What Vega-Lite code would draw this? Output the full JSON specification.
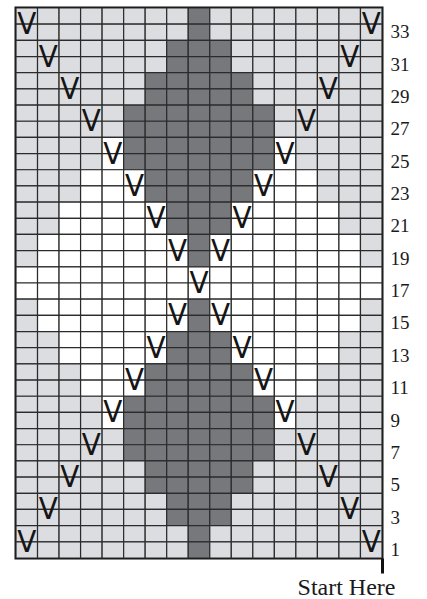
{
"$schema": "https://vega.github.io/schema/vega-lite/v6.json",
"width": 366,
"height": 550,
"autosize": {"type": "none"},
"padding": {"left": 16, "top": 8, "right": 45, "bottom": 41},
"background": "white",
"config": {"view": {"stroke": "#111111", "strokeWidth": 3}},
"datasets": {
"cells": [
{"col":1,"row":34,"tone":"L"},{"col":2,"row":34,"tone":"L"},{"col":3,"row":34,"tone":"L"},{"col":4,"row":34,"tone":"L"},{"col":5,"row":34,"tone":"L"},{"col":6,"row":34,"tone":"L"},{"col":7,"row":34,"tone":"L"},{"col":8,"row":34,"tone":"L"},{"col":9,"row":34,"tone":"D"},{"col":10,"row":34,"tone":"L"},{"col":11,"row":34,"tone":"L"},{"col":12,"row":34,"tone":"L"},{"col":13,"row":34,"tone":"L"},{"col":14,"row":34,"tone":"L"},{"col":15,"row":34,"tone":"L"},{"col":16,"row":34,"tone":"L"},{"col":17,"row":34,"tone":"L"},
{"col":1,"row":33,"tone":"L"},{"col":2,"row":33,"tone":"L"},{"col":3,"row":33,"tone":"L"},{"col":4,"row":33,"tone":"L"},{"col":5,"row":33,"tone":"L"},{"col":6,"row":33,"tone":"L"},{"col":7,"row":33,"tone":"L"},{"col":8,"row":33,"tone":"L"},{"col":9,"row":33,"tone":"D"},{"col":10,"row":33,"tone":"L"},{"col":11,"row":33,"tone":"L"},{"col":12,"row":33,"tone":"L"},{"col":13,"row":33,"tone":"L"},{"col":14,"row":33,"tone":"L"},{"col":15,"row":33,"tone":"L"},{"col":16,"row":33,"tone":"L"},{"col":17,"row":33,"tone":"L"},
{"col":1,"row":32,"tone":"L"},{"col":2,"row":32,"tone":"L"},{"col":3,"row":32,"tone":"L"},{"col":4,"row":32,"tone":"L"},{"col":5,"row":32,"tone":"L"},{"col":6,"row":32,"tone":"L"},{"col":7,"row":32,"tone":"L"},{"col":8,"row":32,"tone":"D"},{"col":9,"row":32,"tone":"D"},{"col":10,"row":32,"tone":"D"},{"col":11,"row":32,"tone":"L"},{"col":12,"row":32,"tone":"L"},{"col":13,"row":32,"tone":"L"},{"col":14,"row":32,"tone":"L"},{"col":15,"row":32,"tone":"L"},{"col":16,"row":32,"tone":"L"},{"col":17,"row":32,"tone":"L"},
{"col":1,"row":31,"tone":"L"},{"col":2,"row":31,"tone":"L"},{"col":3,"row":31,"tone":"L"},{"col":4,"row":31,"tone":"L"},{"col":5,"row":31,"tone":"L"},{"col":6,"row":31,"tone":"L"},{"col":7,"row":31,"tone":"L"},{"col":8,"row":31,"tone":"D"},{"col":9,"row":31,"tone":"D"},{"col":10,"row":31,"tone":"D"},{"col":11,"row":31,"tone":"L"},{"col":12,"row":31,"tone":"L"},{"col":13,"row":31,"tone":"L"},{"col":14,"row":31,"tone":"L"},{"col":15,"row":31,"tone":"L"},{"col":16,"row":31,"tone":"L"},{"col":17,"row":31,"tone":"L"},
{"col":1,"row":30,"tone":"L"},{"col":2,"row":30,"tone":"L"},{"col":3,"row":30,"tone":"L"},{"col":4,"row":30,"tone":"L"},{"col":5,"row":30,"tone":"L"},{"col":6,"row":30,"tone":"L"},{"col":7,"row":30,"tone":"D"},{"col":8,"row":30,"tone":"D"},{"col":9,"row":30,"tone":"D"},{"col":10,"row":30,"tone":"D"},{"col":11,"row":30,"tone":"D"},{"col":12,"row":30,"tone":"L"},{"col":13,"row":30,"tone":"L"},{"col":14,"row":30,"tone":"L"},{"col":15,"row":30,"tone":"L"},{"col":16,"row":30,"tone":"L"},{"col":17,"row":30,"tone":"L"},
{"col":1,"row":29,"tone":"L"},{"col":2,"row":29,"tone":"L"},{"col":3,"row":29,"tone":"L"},{"col":4,"row":29,"tone":"L"},{"col":5,"row":29,"tone":"L"},{"col":6,"row":29,"tone":"L"},{"col":7,"row":29,"tone":"D"},{"col":8,"row":29,"tone":"D"},{"col":9,"row":29,"tone":"D"},{"col":10,"row":29,"tone":"D"},{"col":11,"row":29,"tone":"D"},{"col":12,"row":29,"tone":"L"},{"col":13,"row":29,"tone":"L"},{"col":14,"row":29,"tone":"L"},{"col":15,"row":29,"tone":"L"},{"col":16,"row":29,"tone":"L"},{"col":17,"row":29,"tone":"L"},
{"col":1,"row":28,"tone":"L"},{"col":2,"row":28,"tone":"L"},{"col":3,"row":28,"tone":"L"},{"col":4,"row":28,"tone":"L"},{"col":5,"row":28,"tone":"L"},{"col":6,"row":28,"tone":"D"},{"col":7,"row":28,"tone":"D"},{"col":8,"row":28,"tone":"D"},{"col":9,"row":28,"tone":"D"},{"col":10,"row":28,"tone":"D"},{"col":11,"row":28,"tone":"D"},{"col":12,"row":28,"tone":"D"},{"col":13,"row":28,"tone":"L"},{"col":14,"row":28,"tone":"L"},{"col":15,"row":28,"tone":"L"},{"col":16,"row":28,"tone":"L"},{"col":17,"row":28,"tone":"L"},
{"col":1,"row":27,"tone":"L"},{"col":2,"row":27,"tone":"L"},{"col":3,"row":27,"tone":"L"},{"col":4,"row":27,"tone":"L"},{"col":5,"row":27,"tone":"L"},{"col":6,"row":27,"tone":"D"},{"col":7,"row":27,"tone":"D"},{"col":8,"row":27,"tone":"D"},{"col":9,"row":27,"tone":"D"},{"col":10,"row":27,"tone":"D"},{"col":11,"row":27,"tone":"D"},{"col":12,"row":27,"tone":"D"},{"col":13,"row":27,"tone":"L"},{"col":14,"row":27,"tone":"L"},{"col":15,"row":27,"tone":"L"},{"col":16,"row":27,"tone":"L"},{"col":17,"row":27,"tone":"L"},
{"col":1,"row":26,"tone":"L"},{"col":2,"row":26,"tone":"L"},{"col":3,"row":26,"tone":"L"},{"col":4,"row":26,"tone":"L"},{"col":5,"row":26,"tone":"W"},{"col":6,"row":26,"tone":"D"},{"col":7,"row":26,"tone":"D"},{"col":8,"row":26,"tone":"D"},{"col":9,"row":26,"tone":"D"},{"col":10,"row":26,"tone":"D"},{"col":11,"row":26,"tone":"D"},{"col":12,"row":26,"tone":"D"},{"col":13,"row":26,"tone":"W"},{"col":14,"row":26,"tone":"L"},{"col":15,"row":26,"tone":"L"},{"col":16,"row":26,"tone":"L"},{"col":17,"row":26,"tone":"L"},
{"col":1,"row":25,"tone":"L"},{"col":2,"row":25,"tone":"L"},{"col":3,"row":25,"tone":"L"},{"col":4,"row":25,"tone":"L"},{"col":5,"row":25,"tone":"W"},{"col":6,"row":25,"tone":"D"},{"col":7,"row":25,"tone":"D"},{"col":8,"row":25,"tone":"D"},{"col":9,"row":25,"tone":"D"},{"col":10,"row":25,"tone":"D"},{"col":11,"row":25,"tone":"D"},{"col":12,"row":25,"tone":"D"},{"col":13,"row":25,"tone":"W"},{"col":14,"row":25,"tone":"L"},{"col":15,"row":25,"tone":"L"},{"col":16,"row":25,"tone":"L"},{"col":17,"row":25,"tone":"L"},
{"col":1,"row":24,"tone":"L"},{"col":2,"row":24,"tone":"L"},{"col":3,"row":24,"tone":"L"},{"col":4,"row":24,"tone":"W"},{"col":5,"row":24,"tone":"W"},{"col":6,"row":24,"tone":"W"},{"col":7,"row":24,"tone":"D"},{"col":8,"row":24,"tone":"D"},{"col":9,"row":24,"tone":"D"},{"col":10,"row":24,"tone":"D"},{"col":11,"row":24,"tone":"D"},{"col":12,"row":24,"tone":"W"},{"col":13,"row":24,"tone":"W"},{"col":14,"row":24,"tone":"W"},{"col":15,"row":24,"tone":"L"},{"col":16,"row":24,"tone":"L"},{"col":17,"row":24,"tone":"L"},
{"col":1,"row":23,"tone":"L"},{"col":2,"row":23,"tone":"L"},{"col":3,"row":23,"tone":"L"},{"col":4,"row":23,"tone":"W"},{"col":5,"row":23,"tone":"W"},{"col":6,"row":23,"tone":"W"},{"col":7,"row":23,"tone":"D"},{"col":8,"row":23,"tone":"D"},{"col":9,"row":23,"tone":"D"},{"col":10,"row":23,"tone":"D"},{"col":11,"row":23,"tone":"D"},{"col":12,"row":23,"tone":"W"},{"col":13,"row":23,"tone":"W"},{"col":14,"row":23,"tone":"W"},{"col":15,"row":23,"tone":"L"},{"col":16,"row":23,"tone":"L"},{"col":17,"row":23,"tone":"L"},
{"col":1,"row":22,"tone":"L"},{"col":2,"row":22,"tone":"L"},{"col":3,"row":22,"tone":"W"},{"col":4,"row":22,"tone":"W"},{"col":5,"row":22,"tone":"W"},{"col":6,"row":22,"tone":"W"},{"col":7,"row":22,"tone":"W"},{"col":8,"row":22,"tone":"D"},{"col":9,"row":22,"tone":"D"},{"col":10,"row":22,"tone":"D"},{"col":11,"row":22,"tone":"W"},{"col":12,"row":22,"tone":"W"},{"col":13,"row":22,"tone":"W"},{"col":14,"row":22,"tone":"W"},{"col":15,"row":22,"tone":"W"},{"col":16,"row":22,"tone":"L"},{"col":17,"row":22,"tone":"L"},
{"col":1,"row":21,"tone":"L"},{"col":2,"row":21,"tone":"L"},{"col":3,"row":21,"tone":"W"},{"col":4,"row":21,"tone":"W"},{"col":5,"row":21,"tone":"W"},{"col":6,"row":21,"tone":"W"},{"col":7,"row":21,"tone":"W"},{"col":8,"row":21,"tone":"D"},{"col":9,"row":21,"tone":"D"},{"col":10,"row":21,"tone":"D"},{"col":11,"row":21,"tone":"W"},{"col":12,"row":21,"tone":"W"},{"col":13,"row":21,"tone":"W"},{"col":14,"row":21,"tone":"W"},{"col":15,"row":21,"tone":"W"},{"col":16,"row":21,"tone":"L"},{"col":17,"row":21,"tone":"L"},
{"col":1,"row":20,"tone":"L"},{"col":2,"row":20,"tone":"W"},{"col":3,"row":20,"tone":"W"},{"col":4,"row":20,"tone":"W"},{"col":5,"row":20,"tone":"W"},{"col":6,"row":20,"tone":"W"},{"col":7,"row":20,"tone":"W"},{"col":8,"row":20,"tone":"W"},{"col":9,"row":20,"tone":"D"},{"col":10,"row":20,"tone":"W"},{"col":11,"row":20,"tone":"W"},{"col":12,"row":20,"tone":"W"},{"col":13,"row":20,"tone":"W"},{"col":14,"row":20,"tone":"W"},{"col":15,"row":20,"tone":"W"},{"col":16,"row":20,"tone":"W"},{"col":17,"row":20,"tone":"L"},
{"col":1,"row":19,"tone":"L"},{"col":2,"row":19,"tone":"W"},{"col":3,"row":19,"tone":"W"},{"col":4,"row":19,"tone":"W"},{"col":5,"row":19,"tone":"W"},{"col":6,"row":19,"tone":"W"},{"col":7,"row":19,"tone":"W"},{"col":8,"row":19,"tone":"W"},{"col":9,"row":19,"tone":"D"},{"col":10,"row":19,"tone":"W"},{"col":11,"row":19,"tone":"W"},{"col":12,"row":19,"tone":"W"},{"col":13,"row":19,"tone":"W"},{"col":14,"row":19,"tone":"W"},{"col":15,"row":19,"tone":"W"},{"col":16,"row":19,"tone":"W"},{"col":17,"row":19,"tone":"L"},
{"col":1,"row":18,"tone":"W"},{"col":2,"row":18,"tone":"W"},{"col":3,"row":18,"tone":"W"},{"col":4,"row":18,"tone":"W"},{"col":5,"row":18,"tone":"W"},{"col":6,"row":18,"tone":"W"},{"col":7,"row":18,"tone":"W"},{"col":8,"row":18,"tone":"W"},{"col":9,"row":18,"tone":"W"},{"col":10,"row":18,"tone":"W"},{"col":11,"row":18,"tone":"W"},{"col":12,"row":18,"tone":"W"},{"col":13,"row":18,"tone":"W"},{"col":14,"row":18,"tone":"W"},{"col":15,"row":18,"tone":"W"},{"col":16,"row":18,"tone":"W"},{"col":17,"row":18,"tone":"W"},
{"col":1,"row":17,"tone":"W"},{"col":2,"row":17,"tone":"W"},{"col":3,"row":17,"tone":"W"},{"col":4,"row":17,"tone":"W"},{"col":5,"row":17,"tone":"W"},{"col":6,"row":17,"tone":"W"},{"col":7,"row":17,"tone":"W"},{"col":8,"row":17,"tone":"W"},{"col":9,"row":17,"tone":"W"},{"col":10,"row":17,"tone":"W"},{"col":11,"row":17,"tone":"W"},{"col":12,"row":17,"tone":"W"},{"col":13,"row":17,"tone":"W"},{"col":14,"row":17,"tone":"W"},{"col":15,"row":17,"tone":"W"},{"col":16,"row":17,"tone":"W"},{"col":17,"row":17,"tone":"W"},
{"col":1,"row":16,"tone":"L"},{"col":2,"row":16,"tone":"W"},{"col":3,"row":16,"tone":"W"},{"col":4,"row":16,"tone":"W"},{"col":5,"row":16,"tone":"W"},{"col":6,"row":16,"tone":"W"},{"col":7,"row":16,"tone":"W"},{"col":8,"row":16,"tone":"W"},{"col":9,"row":16,"tone":"D"},{"col":10,"row":16,"tone":"W"},{"col":11,"row":16,"tone":"W"},{"col":12,"row":16,"tone":"W"},{"col":13,"row":16,"tone":"W"},{"col":14,"row":16,"tone":"W"},{"col":15,"row":16,"tone":"W"},{"col":16,"row":16,"tone":"W"},{"col":17,"row":16,"tone":"L"},
{"col":1,"row":15,"tone":"L"},{"col":2,"row":15,"tone":"W"},{"col":3,"row":15,"tone":"W"},{"col":4,"row":15,"tone":"W"},{"col":5,"row":15,"tone":"W"},{"col":6,"row":15,"tone":"W"},{"col":7,"row":15,"tone":"W"},{"col":8,"row":15,"tone":"W"},{"col":9,"row":15,"tone":"D"},{"col":10,"row":15,"tone":"W"},{"col":11,"row":15,"tone":"W"},{"col":12,"row":15,"tone":"W"},{"col":13,"row":15,"tone":"W"},{"col":14,"row":15,"tone":"W"},{"col":15,"row":15,"tone":"W"},{"col":16,"row":15,"tone":"W"},{"col":17,"row":15,"tone":"L"},
{"col":1,"row":14,"tone":"L"},{"col":2,"row":14,"tone":"L"},{"col":3,"row":14,"tone":"W"},{"col":4,"row":14,"tone":"W"},{"col":5,"row":14,"tone":"W"},{"col":6,"row":14,"tone":"W"},{"col":7,"row":14,"tone":"W"},{"col":8,"row":14,"tone":"D"},{"col":9,"row":14,"tone":"D"},{"col":10,"row":14,"tone":"D"},{"col":11,"row":14,"tone":"W"},{"col":12,"row":14,"tone":"W"},{"col":13,"row":14,"tone":"W"},{"col":14,"row":14,"tone":"W"},{"col":15,"row":14,"tone":"W"},{"col":16,"row":14,"tone":"L"},{"col":17,"row":14,"tone":"L"},
{"col":1,"row":13,"tone":"L"},{"col":2,"row":13,"tone":"L"},{"col":3,"row":13,"tone":"W"},{"col":4,"row":13,"tone":"W"},{"col":5,"row":13,"tone":"W"},{"col":6,"row":13,"tone":"W"},{"col":7,"row":13,"tone":"W"},{"col":8,"row":13,"tone":"D"},{"col":9,"row":13,"tone":"D"},{"col":10,"row":13,"tone":"D"},{"col":11,"row":13,"tone":"W"},{"col":12,"row":13,"tone":"W"},{"col":13,"row":13,"tone":"W"},{"col":14,"row":13,"tone":"W"},{"col":15,"row":13,"tone":"W"},{"col":16,"row":13,"tone":"L"},{"col":17,"row":13,"tone":"L"},
{"col":1,"row":12,"tone":"L"},{"col":2,"row":12,"tone":"L"},{"col":3,"row":12,"tone":"L"},{"col":4,"row":12,"tone":"W"},{"col":5,"row":12,"tone":"W"},{"col":6,"row":12,"tone":"W"},{"col":7,"row":12,"tone":"D"},{"col":8,"row":12,"tone":"D"},{"col":9,"row":12,"tone":"D"},{"col":10,"row":12,"tone":"D"},{"col":11,"row":12,"tone":"D"},{"col":12,"row":12,"tone":"W"},{"col":13,"row":12,"tone":"W"},{"col":14,"row":12,"tone":"W"},{"col":15,"row":12,"tone":"L"},{"col":16,"row":12,"tone":"L"},{"col":17,"row":12,"tone":"L"},
{"col":1,"row":11,"tone":"L"},{"col":2,"row":11,"tone":"L"},{"col":3,"row":11,"tone":"L"},{"col":4,"row":11,"tone":"W"},{"col":5,"row":11,"tone":"W"},{"col":6,"row":11,"tone":"W"},{"col":7,"row":11,"tone":"D"},{"col":8,"row":11,"tone":"D"},{"col":9,"row":11,"tone":"D"},{"col":10,"row":11,"tone":"D"},{"col":11,"row":11,"tone":"D"},{"col":12,"row":11,"tone":"W"},{"col":13,"row":11,"tone":"W"},{"col":14,"row":11,"tone":"W"},{"col":15,"row":11,"tone":"L"},{"col":16,"row":11,"tone":"L"},{"col":17,"row":11,"tone":"L"},
{"col":1,"row":10,"tone":"L"},{"col":2,"row":10,"tone":"L"},{"col":3,"row":10,"tone":"L"},{"col":4,"row":10,"tone":"L"},{"col":5,"row":10,"tone":"W"},{"col":6,"row":10,"tone":"D"},{"col":7,"row":10,"tone":"D"},{"col":8,"row":10,"tone":"D"},{"col":9,"row":10,"tone":"D"},{"col":10,"row":10,"tone":"D"},{"col":11,"row":10,"tone":"D"},{"col":12,"row":10,"tone":"D"},{"col":13,"row":10,"tone":"W"},{"col":14,"row":10,"tone":"L"},{"col":15,"row":10,"tone":"L"},{"col":16,"row":10,"tone":"L"},{"col":17,"row":10,"tone":"L"},
{"col":1,"row":9,"tone":"L"},{"col":2,"row":9,"tone":"L"},{"col":3,"row":9,"tone":"L"},{"col":4,"row":9,"tone":"L"},{"col":5,"row":9,"tone":"W"},{"col":6,"row":9,"tone":"D"},{"col":7,"row":9,"tone":"D"},{"col":8,"row":9,"tone":"D"},{"col":9,"row":9,"tone":"D"},{"col":10,"row":9,"tone":"D"},{"col":11,"row":9,"tone":"D"},{"col":12,"row":9,"tone":"D"},{"col":13,"row":9,"tone":"W"},{"col":14,"row":9,"tone":"L"},{"col":15,"row":9,"tone":"L"},{"col":16,"row":9,"tone":"L"},{"col":17,"row":9,"tone":"L"},
{"col":1,"row":8,"tone":"L"},{"col":2,"row":8,"tone":"L"},{"col":3,"row":8,"tone":"L"},{"col":4,"row":8,"tone":"L"},{"col":5,"row":8,"tone":"L"},{"col":6,"row":8,"tone":"D"},{"col":7,"row":8,"tone":"D"},{"col":8,"row":8,"tone":"D"},{"col":9,"row":8,"tone":"D"},{"col":10,"row":8,"tone":"D"},{"col":11,"row":8,"tone":"D"},{"col":12,"row":8,"tone":"D"},{"col":13,"row":8,"tone":"L"},{"col":14,"row":8,"tone":"L"},{"col":15,"row":8,"tone":"L"},{"col":16,"row":8,"tone":"L"},{"col":17,"row":8,"tone":"L"},
{"col":1,"row":7,"tone":"L"},{"col":2,"row":7,"tone":"L"},{"col":3,"row":7,"tone":"L"},{"col":4,"row":7,"tone":"L"},{"col":5,"row":7,"tone":"L"},{"col":6,"row":7,"tone":"D"},{"col":7,"row":7,"tone":"D"},{"col":8,"row":7,"tone":"D"},{"col":9,"row":7,"tone":"D"},{"col":10,"row":7,"tone":"D"},{"col":11,"row":7,"tone":"D"},{"col":12,"row":7,"tone":"D"},{"col":13,"row":7,"tone":"L"},{"col":14,"row":7,"tone":"L"},{"col":15,"row":7,"tone":"L"},{"col":16,"row":7,"tone":"L"},{"col":17,"row":7,"tone":"L"},
{"col":1,"row":6,"tone":"L"},{"col":2,"row":6,"tone":"L"},{"col":3,"row":6,"tone":"L"},{"col":4,"row":6,"tone":"L"},{"col":5,"row":6,"tone":"L"},{"col":6,"row":6,"tone":"L"},{"col":7,"row":6,"tone":"D"},{"col":8,"row":6,"tone":"D"},{"col":9,"row":6,"tone":"D"},{"col":10,"row":6,"tone":"D"},{"col":11,"row":6,"tone":"D"},{"col":12,"row":6,"tone":"L"},{"col":13,"row":6,"tone":"L"},{"col":14,"row":6,"tone":"L"},{"col":15,"row":6,"tone":"L"},{"col":16,"row":6,"tone":"L"},{"col":17,"row":6,"tone":"L"},
{"col":1,"row":5,"tone":"L"},{"col":2,"row":5,"tone":"L"},{"col":3,"row":5,"tone":"L"},{"col":4,"row":5,"tone":"L"},{"col":5,"row":5,"tone":"L"},{"col":6,"row":5,"tone":"L"},{"col":7,"row":5,"tone":"D"},{"col":8,"row":5,"tone":"D"},{"col":9,"row":5,"tone":"D"},{"col":10,"row":5,"tone":"D"},{"col":11,"row":5,"tone":"D"},{"col":12,"row":5,"tone":"L"},{"col":13,"row":5,"tone":"L"},{"col":14,"row":5,"tone":"L"},{"col":15,"row":5,"tone":"L"},{"col":16,"row":5,"tone":"L"},{"col":17,"row":5,"tone":"L"},
{"col":1,"row":4,"tone":"L"},{"col":2,"row":4,"tone":"L"},{"col":3,"row":4,"tone":"L"},{"col":4,"row":4,"tone":"L"},{"col":5,"row":4,"tone":"L"},{"col":6,"row":4,"tone":"L"},{"col":7,"row":4,"tone":"L"},{"col":8,"row":4,"tone":"D"},{"col":9,"row":4,"tone":"D"},{"col":10,"row":4,"tone":"D"},{"col":11,"row":4,"tone":"L"},{"col":12,"row":4,"tone":"L"},{"col":13,"row":4,"tone":"L"},{"col":14,"row":4,"tone":"L"},{"col":15,"row":4,"tone":"L"},{"col":16,"row":4,"tone":"L"},{"col":17,"row":4,"tone":"L"},
{"col":1,"row":3,"tone":"L"},{"col":2,"row":3,"tone":"L"},{"col":3,"row":3,"tone":"L"},{"col":4,"row":3,"tone":"L"},{"col":5,"row":3,"tone":"L"},{"col":6,"row":3,"tone":"L"},{"col":7,"row":3,"tone":"L"},{"col":8,"row":3,"tone":"D"},{"col":9,"row":3,"tone":"D"},{"col":10,"row":3,"tone":"D"},{"col":11,"row":3,"tone":"L"},{"col":12,"row":3,"tone":"L"},{"col":13,"row":3,"tone":"L"},{"col":14,"row":3,"tone":"L"},{"col":15,"row":3,"tone":"L"},{"col":16,"row":3,"tone":"L"},{"col":17,"row":3,"tone":"L"},
{"col":1,"row":2,"tone":"L"},{"col":2,"row":2,"tone":"L"},{"col":3,"row":2,"tone":"L"},{"col":4,"row":2,"tone":"L"},{"col":5,"row":2,"tone":"L"},{"col":6,"row":2,"tone":"L"},{"col":7,"row":2,"tone":"L"},{"col":8,"row":2,"tone":"L"},{"col":9,"row":2,"tone":"D"},{"col":10,"row":2,"tone":"L"},{"col":11,"row":2,"tone":"L"},{"col":12,"row":2,"tone":"L"},{"col":13,"row":2,"tone":"L"},{"col":14,"row":2,"tone":"L"},{"col":15,"row":2,"tone":"L"},{"col":16,"row":2,"tone":"L"},{"col":17,"row":2,"tone":"L"},
{"col":1,"row":1,"tone":"L"},{"col":2,"row":1,"tone":"L"},{"col":3,"row":1,"tone":"L"},{"col":4,"row":1,"tone":"L"},{"col":5,"row":1,"tone":"L"},{"col":6,"row":1,"tone":"L"},{"col":7,"row":1,"tone":"L"},{"col":8,"row":1,"tone":"L"},{"col":9,"row":1,"tone":"D"},{"col":10,"row":1,"tone":"L"},{"col":11,"row":1,"tone":"L"},{"col":12,"row":1,"tone":"L"},{"col":13,"row":1,"tone":"L"},{"col":14,"row":1,"tone":"L"},{"col":15,"row":1,"tone":"L"},{"col":16,"row":1,"tone":"L"},{"col":17,"row":1,"tone":"L"}
],
"stitches": [
{"col":1,"row":1},{"col":17,"row":1},
{"col":2,"row":3},{"col":16,"row":3},
{"col":3,"row":5},{"col":15,"row":5},
{"col":4,"row":7},{"col":14,"row":7},
{"col":5,"row":9},{"col":13,"row":9},
{"col":6,"row":11},{"col":12,"row":11},
{"col":7,"row":13},{"col":11,"row":13},
{"col":8,"row":15},{"col":10,"row":15},
{"col":9,"row":17},
{"col":8,"row":19},{"col":10,"row":19},
{"col":7,"row":21},{"col":11,"row":21},
{"col":6,"row":23},{"col":12,"row":23},
{"col":5,"row":25},{"col":13,"row":25},
{"col":4,"row":27},{"col":14,"row":27},
{"col":3,"row":29},{"col":15,"row":29},
{"col":2,"row":31},{"col":16,"row":31},
{"col":1,"row":33},{"col":17,"row":33}
]
},
"layer": [
{
"data": {"name": "cells"},
"mark": {"type": "rect", "stroke": "#2b2b2b", "strokeWidth": 1.2},
"encoding": {
"x": {"field": "col", "type": "ordinal", "sort": "ascending",
"scale": {"paddingInner": 0, "paddingOuter": 0},
"axis": {"orient": "bottom", "values": [17], "bandPosition": 1, "labels": false, "domain": false, "grid": false,
"ticks": true, "tickSize": 15, "tickWidth": 3, "tickColor": "#111111",
"title": "Start Here", "titleFont": "Liberation Serif", "titleFontSize": 24, "titleFontWeight": "normal", "titleColor": "#1a1a1a",
"titleX": 379, "titleY": 36, "titleAlign": "right", "titleBaseline": "alphabetic", "titleAnchor": "end"}},
"y": {"field": "row", "type": "ordinal", "sort": "descending",
"scale": {"paddingInner": 0, "paddingOuter": 0},
"axis": {"orient": "right", "values": [1,3,5,7,9,11,13,15,17,19,21,23,25,27,29,31,33], "domain": false, "ticks": false, "grid": false,
"labelFont": "Liberation Serif", "labelFontSize": 19, "labelColor": "#1a1a1a", "labelPadding": 8, "labelAlign": "left", "title": null}},
"color": {"field": "tone", "type": "nominal",
"scale": {"domain": ["L", "D", "W"], "range": ["#dcdde0", "#77787b", "#ffffff"]}, "legend": null}
}
},
{
"data": {"name": "stitches"},
"mark": {"type": "text", "text": "V", "font": "DejaVu Sans Condensed, DejaVu Sans", "fontSize": 31, "fontWeight": "normal", "color": "#151515", "align": "center", "baseline": "middle", "dy": 1},
"encoding": {
"x": {"field": "col", "type": "ordinal", "sort": "ascending"},
"y": {"field": "row", "type": "ordinal", "sort": "descending", "bandPosition": 0}
}
}
]
}
